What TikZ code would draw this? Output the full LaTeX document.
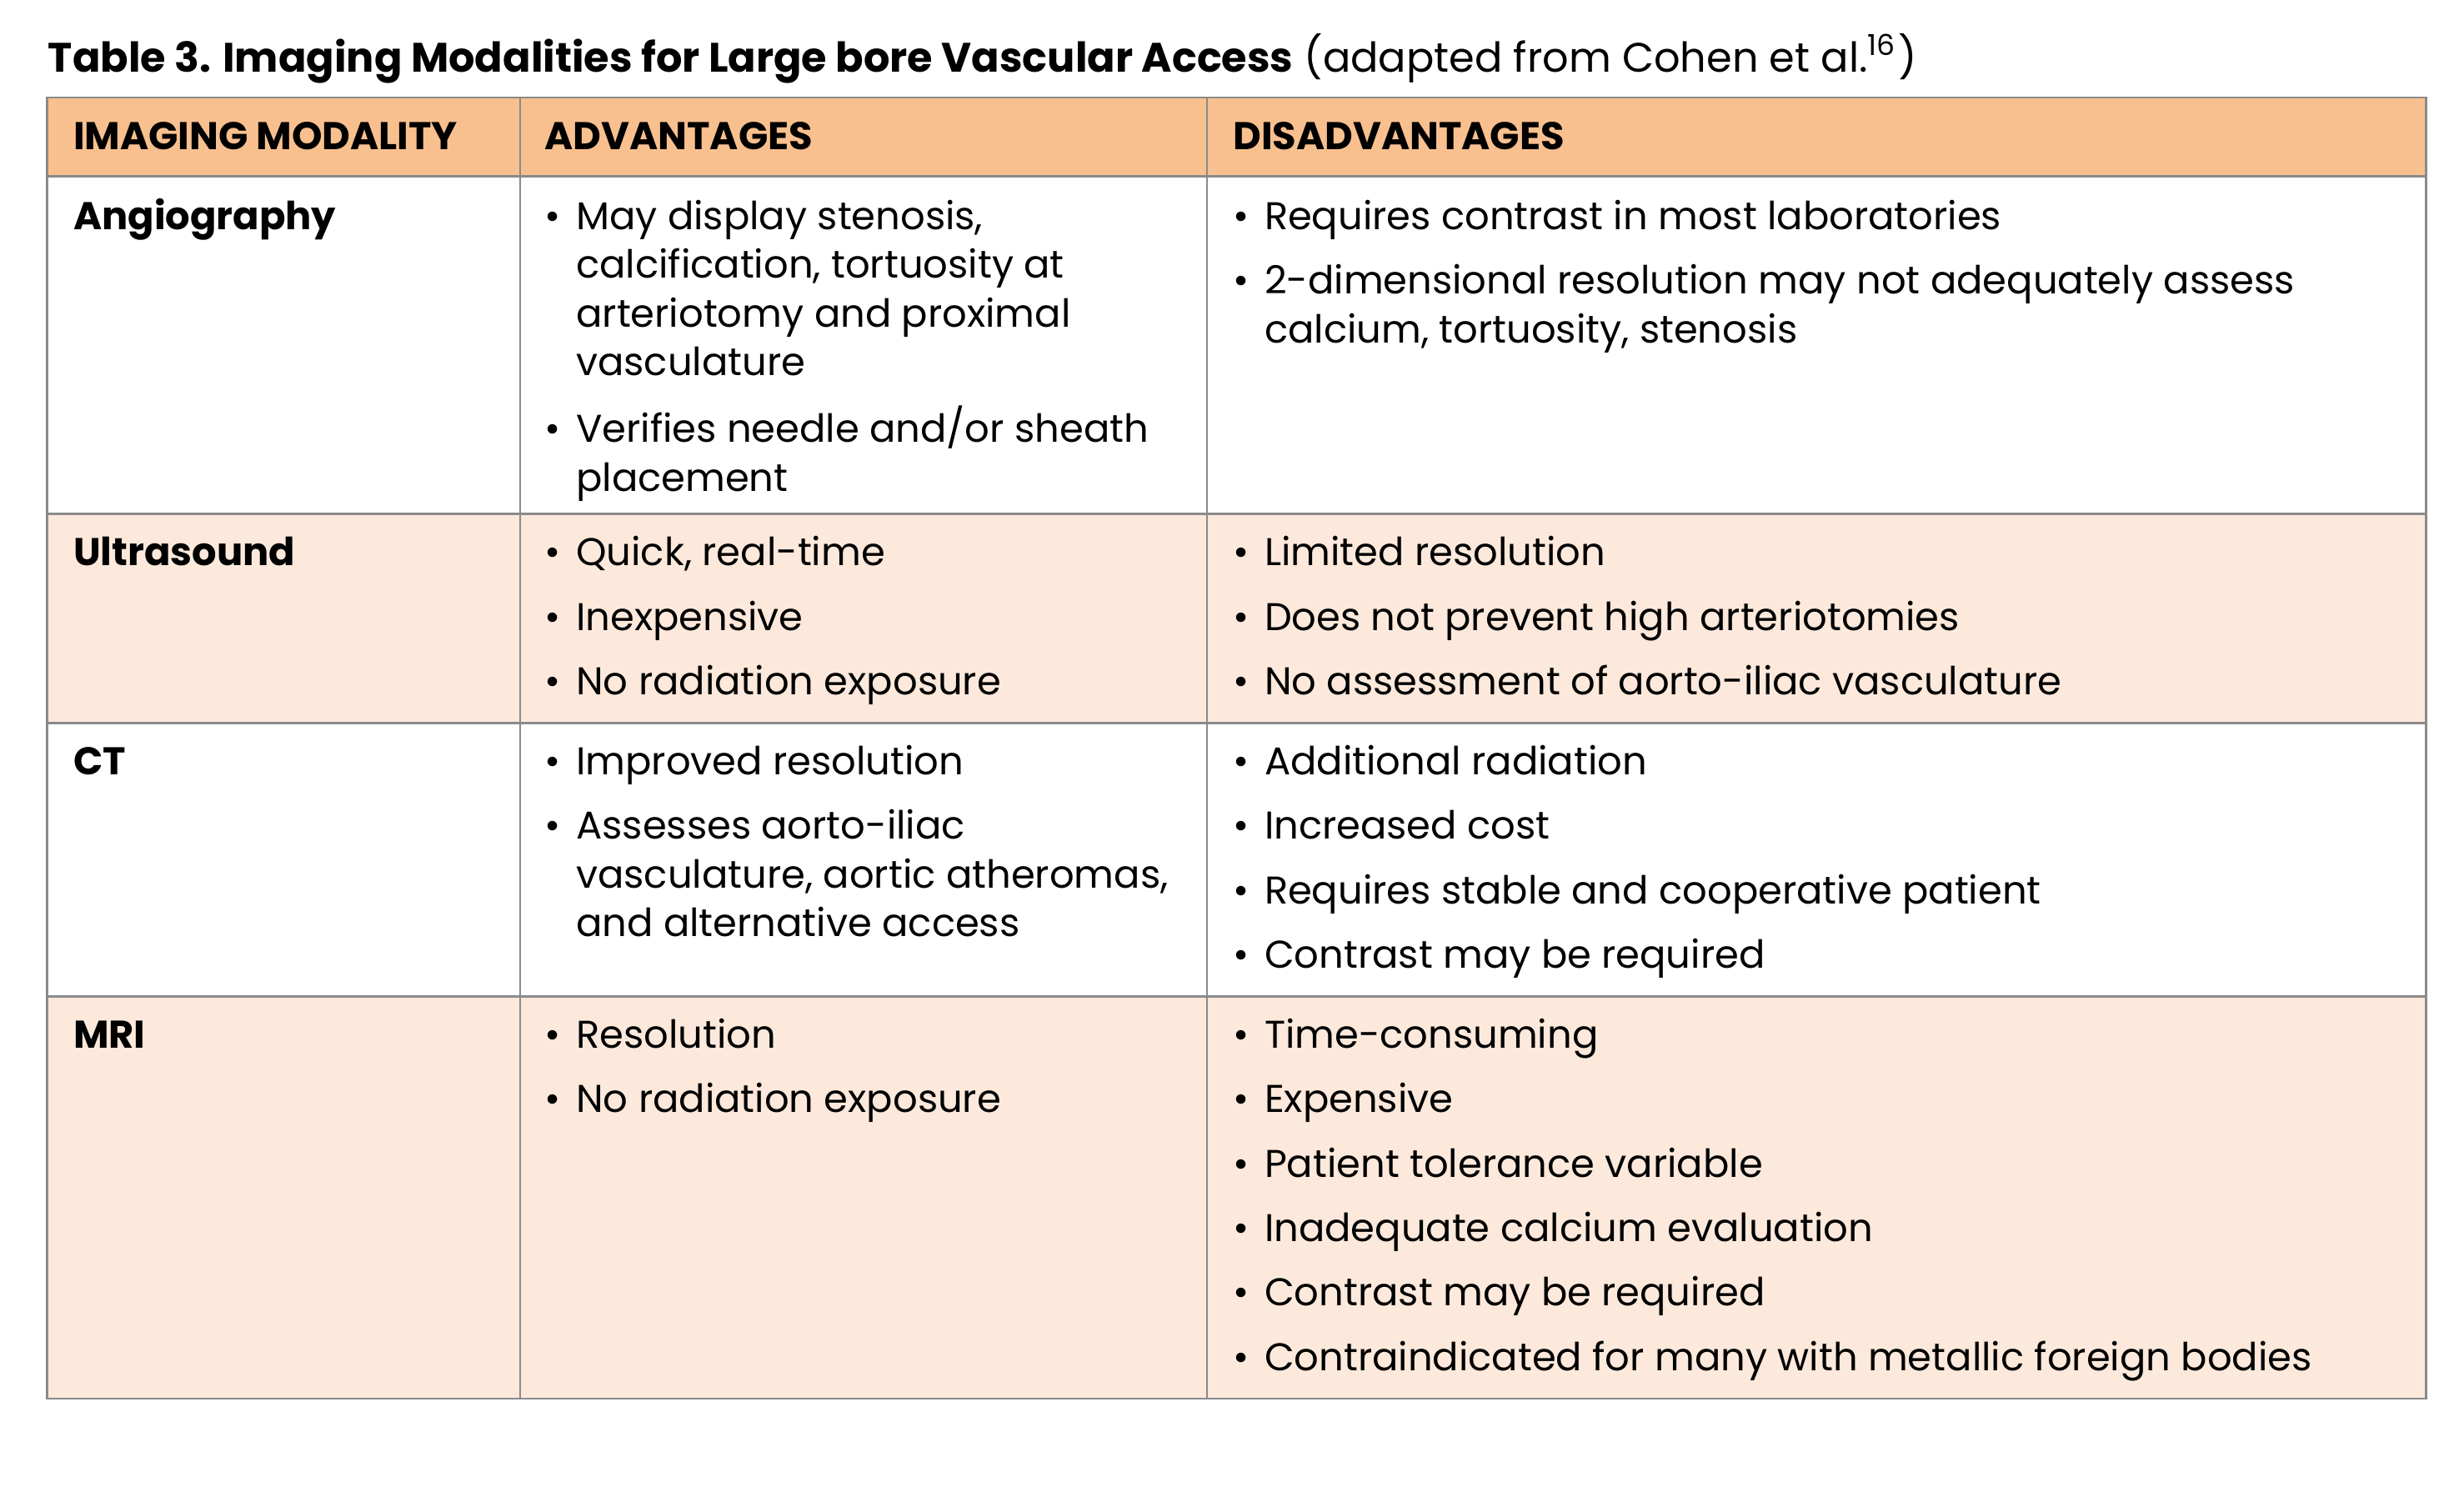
\documentclass[tikz,border=0pt]{standalone}
\usepackage{fontspec}
\setmainfont{Poppins}
\definecolor{headorange}{HTML}{F9C08F}
\definecolor{rowpeach}{HTML}{FCE9DC}
\definecolor{rulegray}{HTML}{8A8A8A}
\newcommand{\itm}[1]{\makebox[0.2cm][l]{\textbullet}#1}
\newcommand{\cnt}[1]{\hspace*{0.2cm}#1}
\newcommand{\gap}{\\[2.85pt]}
\newcommand{\lines}[1]{\begin{tabular}[t]{@{}l@{}}#1\end{tabular}}
\tikzset{%
	% styles for the cells
	cell/.style = {anchor=base west, inner sep=0pt, align=left,
		font=\fontsize{7.0}{8.82}\selectfont},
	head/.style = {cell, font=\fontsize{7.0}{8.82}\selectfont\bfseries},
	grid/.style = {draw=rulegray, line width=0.4pt},
}
\begin{document}
\begin{tikzpicture}[x=0.01cm, y=-0.01cm]
	\useasboundingbox (0,0) rectangle (1568,959);
	% row fills
	\fill[headorange] (30,62) rectangle (1544,112);
	\fill[rowpeach] (30,327) rectangle (1544,460);
	\fill[rowpeach] (30,634) rectangle (1544,890);
	% grid lines
	\draw[grid] (30,62) rectangle (1544,890);
	\foreach \yy in {112,327,460,634} \draw[grid] (30,\yy) -- (1544,\yy);
	\foreach \xx in {331,768} \draw[grid] (\xx,62) -- (\xx,890);
	% title
	\node (title) [cell, font=\fontsize{7.45}{10}\selectfont] at (30,46)
		{\textbf{Table 3. Imaging Modalities for Large bore Vascular Access} (adapted from Cohen et al.\textsuperscript{16})};
	% header
	\node (hmod) [head] at (46,95) {IMAGING MODALITY};
	\node (hadv) [head] at (346,95) {ADVANTAGES};
	\node (hdis) [head] at (784,95) {DISADVANTAGES};
	% Angiography
	\node (angio) [head] at (46,146) {Angiography};
	\node (angioadv) [cell] at (346,146) {\lines{\itm{May display stenosis,}\\\cnt{calcification, tortuosity at}\\\cnt{arteriotomy and proximal}\\\cnt{vasculature}\gap\itm{Verifies needle and/or sheath}\\\cnt{placement}}};
	\node (angiodis) [cell] at (784,146) {\lines{\itm{Requires contrast in most laboratories}\gap\itm{2-dimensional resolution may not adequately assess}\\\cnt{calcium, tortuosity, stenosis}}};
	% Ultrasound
	\node (us) [head] at (46,360) {Ultrasound};
	\node (usadv) [cell] at (346,360) {\lines{\itm{Quick, real-time}\gap\itm{Inexpensive}\gap\itm{No radiation exposure}}};
	\node (usdis) [cell] at (784,360) {\lines{\itm{Limited resolution}\gap\itm{Does not prevent high arteriotomies}\gap\itm{No assessment of aorto-iliac vasculature}}};
	% CT
	\node (ct) [head] at (46,493) {CT};
	\node (ctadv) [cell] at (346,493) {\lines{\itm{Improved resolution}\gap\itm{Assesses aorto-iliac}\\\cnt{vasculature, aortic atheromas,}\\\cnt{and alternative access}}};
	\node (ctdis) [cell] at (784,493) {\lines{\itm{Additional radiation}\gap\itm{Increased cost}\gap\itm{Requires stable and cooperative patient}\gap\itm{Contrast may be required}}};
	% MRI
	\node (mri) [head] at (46,667) {MRI};
	\node (mriadv) [cell] at (346,667) {\lines{\itm{Resolution}\gap\itm{No radiation exposure}}};
	\node (mridis) [cell] at (784,667) {\lines{\itm{Time-consuming}\gap\itm{Expensive}\gap\itm{Patient tolerance variable}\gap\itm{Inadequate calcium evaluation}\gap\itm{Contrast may be required}\gap\itm{Contraindicated for many with metallic foreign bodies}}};
\end{tikzpicture}
\end{document}
